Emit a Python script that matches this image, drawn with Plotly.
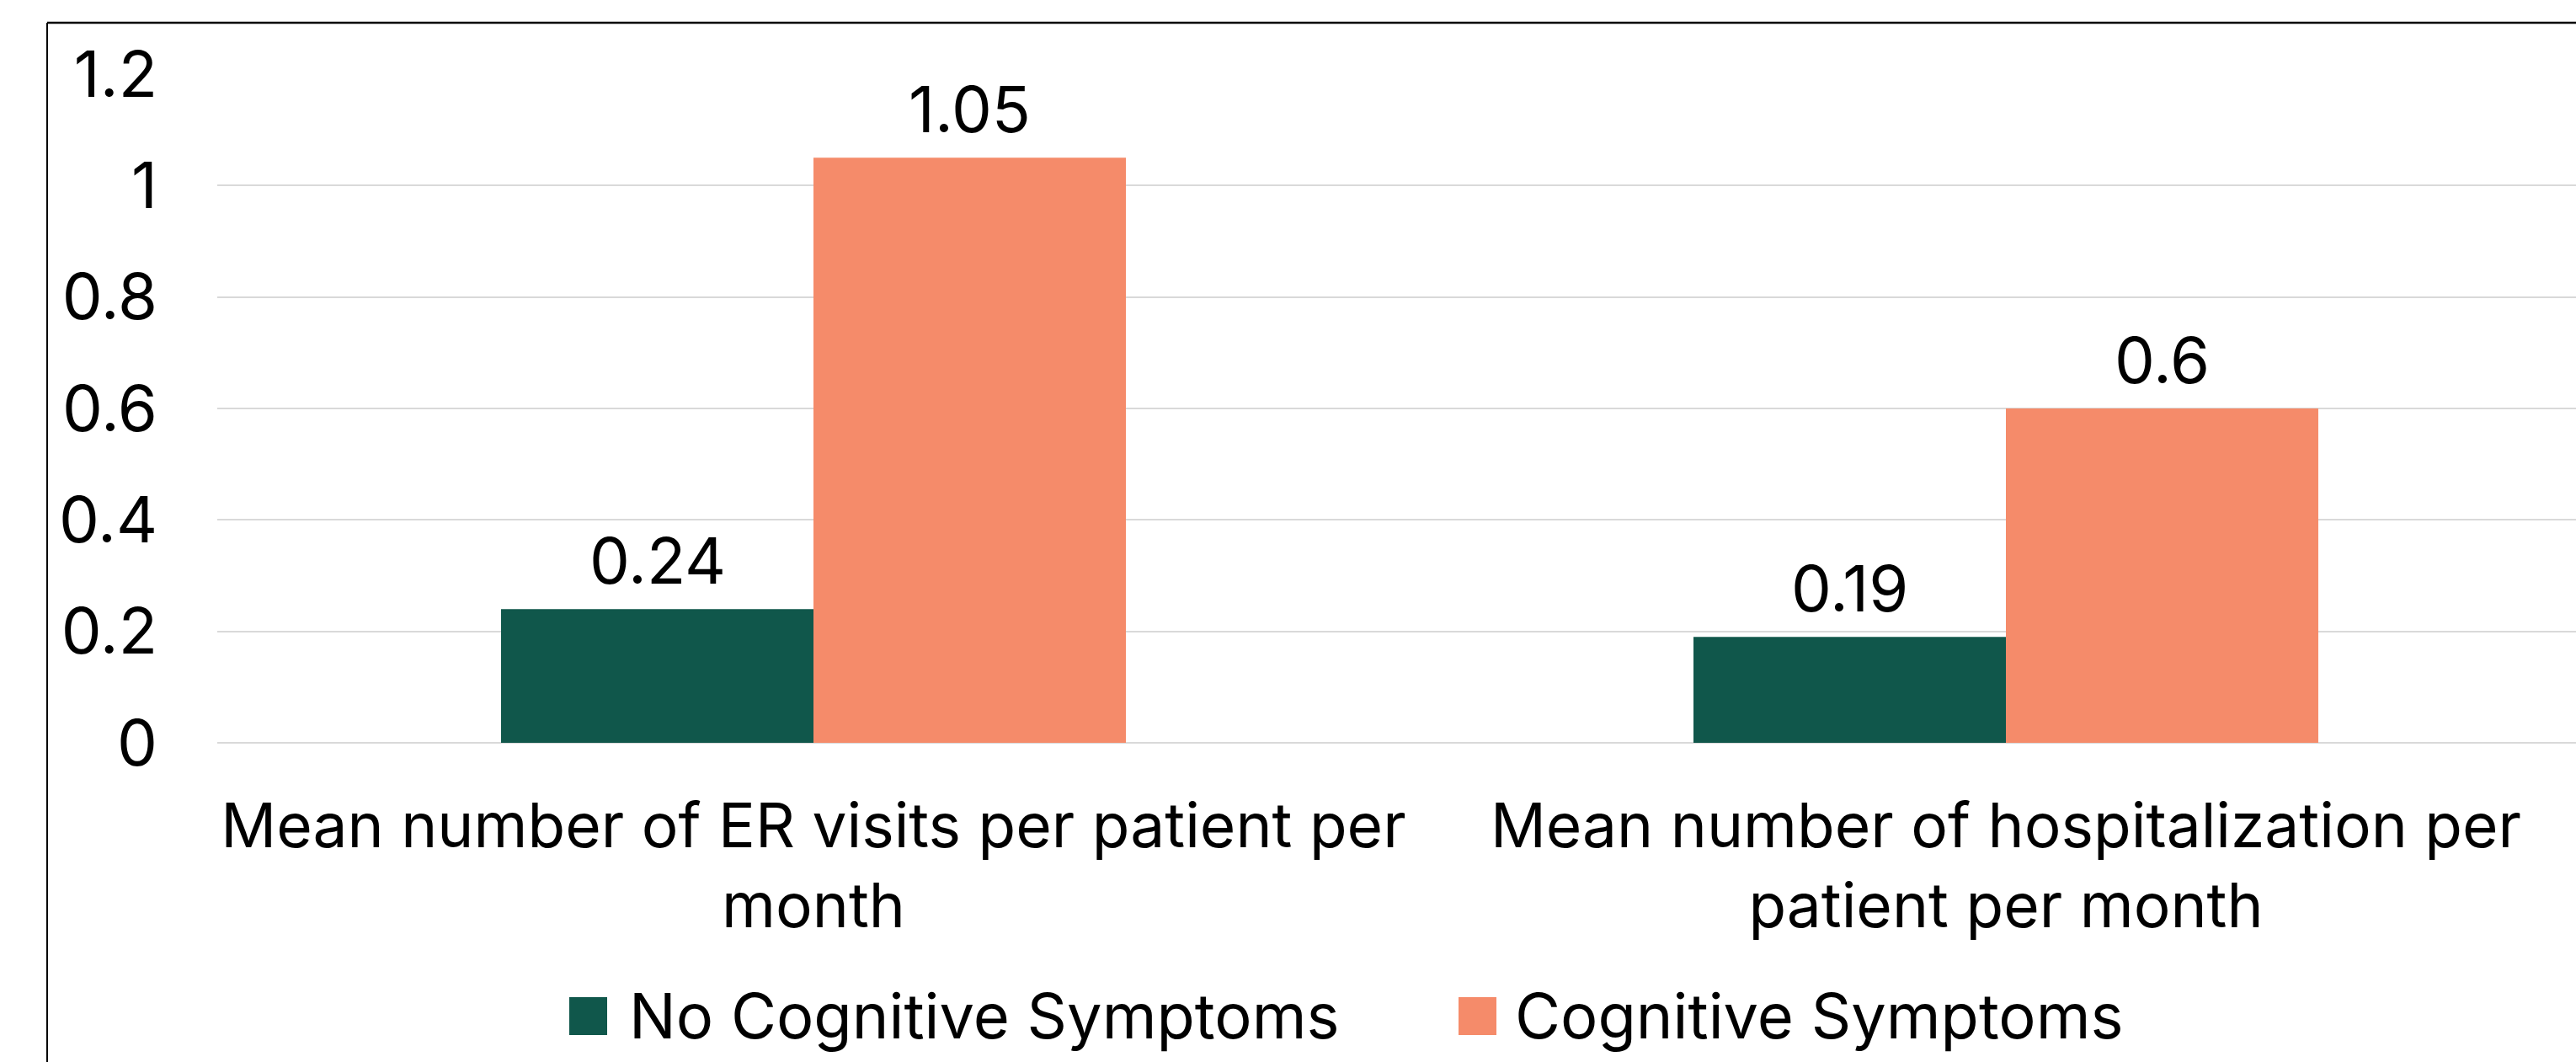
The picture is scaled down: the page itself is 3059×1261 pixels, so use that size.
import plotly.graph_objects as go

# ---- data ----
categories = [
    "Mean number of ER visits per patient per<br>month",
    "Mean number of hospitalization per<br>patient per month",
]
series_names = ["No Cognitive Symptoms", "Cognitive Symptoms"]
no_cognitive = [0.24, 0.19]
cognitive = [1.05, 0.6]
y_ticks = [0, 0.2, 0.4, 0.6, 0.8, 1, 1.2]
y_tick_labels = ["0", "0.2", "0.4", "0.6", "0.8", "1", "1.2"]

# ---- styling ----
W, H = 3059, 1261
PLOT_L, PLOT_R, PLOT_T, PLOT_B = 258, 3059, 88, 882
FONT = "Inter"
FS = 76        # ticks and value labels
FS_CAT = 73    # category labels
FS_LEG = 74    # legend entries
COLORS = ["#10574B", "#F58B6A"]
CAT_PX = 1416  # width of one category slot in pixels
BARGAP = 0.476
BAR_PX = CAT_PX * (1 - BARGAP) / 2


def px_x(px):
    return (px - PLOT_L) / (PLOT_R - PLOT_L)


def px_y(py):
    return (PLOT_B - py) / (PLOT_B - PLOT_T)


fig = go.Figure()
annotations = []
for k, (name, vals, col) in enumerate(zip(series_names, [no_cognitive, cognitive], COLORS)):
    fig.add_trace(go.Bar(
        x=categories, y=vals, name=name, marker_color=col,
        marker_line_width=0, showlegend=False,
    ))
    # value labels centred over each bar
    shift = (k - 0.5) * BAR_PX
    for cat, v in zip(categories, vals):
        annotations.append(dict(
            x=cat, y=v, xref="x", yref="y", text=f"{v:g}", showarrow=False,
            xanchor="center", yanchor="middle", xshift=shift, yshift=58,
            font=dict(family=FONT, size=FS, color="black"),
        ))

fig.update_xaxes(
    range=[-0.5, -0.5 + (PLOT_R - PLOT_L) / CAT_PX],
    showgrid=False, showline=False, zeroline=False,
    tickfont=dict(family=FONT, size=FS_CAT, color="black"),
    ticklabelstandoff=50,
)
fig.update_yaxes(
    range=[0, 1.2], tickvals=y_ticks, ticktext=y_tick_labels,
    showgrid=True, gridcolor="#D9D9D9", gridwidth=2,
    zeroline=True, zerolinecolor="#D9D9D9", zerolinewidth=2,
    showline=False,
    tickfont=dict(family=FONT, size=FS, color="black"),
    ticklabelstandoff=70,
)

# hand-drawn legend with large square swatches
legend_items = [(676, 745), (1732, 1797)]
shapes = []
for (sx, tx), name, col in zip(legend_items, series_names, COLORS):
    shapes.append(dict(type="rect", xref="paper", yref="paper",
                       x0=px_x(sx), x1=px_x(sx + 45),
                       y0=px_y(1229), y1=px_y(1184),
                       fillcolor=col, line_width=0))
    annotations.append(dict(xref="paper", yref="paper", x=px_x(tx), y=px_y(1206),
                            xanchor="left", yanchor="middle", showarrow=False,
                            text=name, font=dict(family=FONT, size=FS_LEG, color="black")))

# chart frame (top and left edges visible)
shapes.append(dict(type="line", xref="paper", yref="paper",
                   x0=px_x(56), x1=px_x(3200), y0=px_y(27), y1=px_y(27),
                   line=dict(color="black", width=2.5)))
shapes.append(dict(type="line", xref="paper", yref="paper",
                   x0=px_x(56), x1=px_x(56), y0=px_y(27), y1=px_y(1400),
                   line=dict(color="black", width=2)))

fig.update_layout(
    width=W, height=H,
    margin=dict(l=PLOT_L, r=W - PLOT_R, t=PLOT_T, b=H - PLOT_B, pad=0),
    paper_bgcolor="white", plot_bgcolor="white",
    barmode="group", bargap=BARGAP, bargroupgap=0,
    shapes=shapes, annotations=annotations,
    font=dict(family=FONT, color="black"),
)

fig.write_html("out.html")
